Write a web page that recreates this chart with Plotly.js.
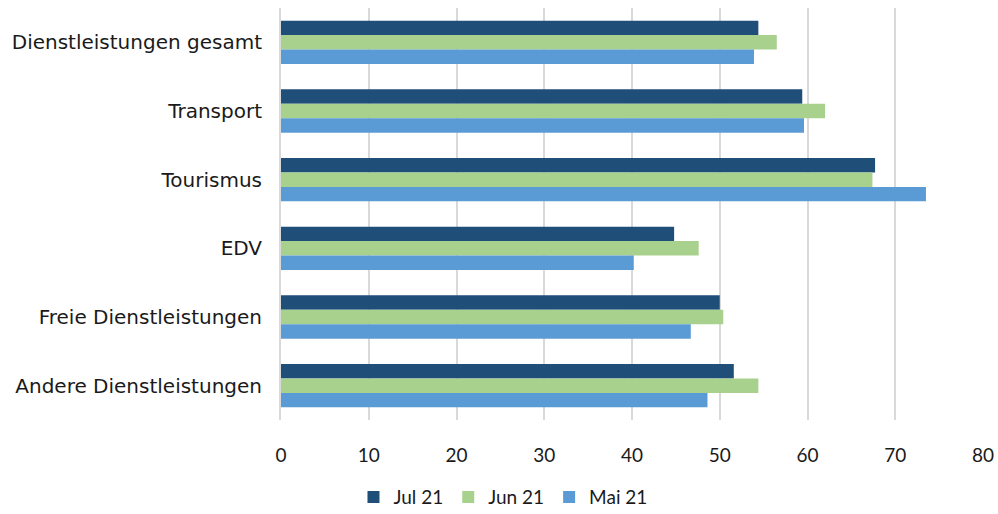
<!DOCTYPE html>
<html><head><meta charset="utf-8">
<script src="https://cdn.plot.ly/plotly-3.0.1.min.js"></script>
<style>body{margin:0;background:#fff}#chart{width:998px;height:514px}</style>
</head><body><div id="chart"></div>
<script>
const categories = ["Dienstleistungen gesamt","Transport","Tourismus","EDV","Freie Dienstleistungen","Andere Dienstleistungen"];
const seriesNames = ["Jul 21","Jun 21","Mai 21"];
const jul21 = [54.4, 59.4, 67.7, 44.8, 50.0, 51.6];
const jun21 = [56.5, 62.0, 67.4, 47.6, 50.4, 54.4];
const mai21 = [53.9, 59.6, 73.5, 40.2, 46.7, 48.6];
const colors = ["#1F4E79","#A9D18E","#5B9BD5"];
const values = [jul21, jun21, mai21];
const font = "Lato, 'Open Sans', sans-serif";
const catFont = "'DejaVu Sans', sans-serif";
const traces = values.map((v,i)=>({
  type:"bar", orientation:"h", name:seriesNames[i], x:v, y:categories,
  marker:{color:colors[i], line:{width:0}}, hoverinfo:"x+name"
}));
const layout = {
  width:998, height:514, paper_bgcolor:"#fff", plot_bgcolor:"#fff",
  margin:{l:281, r:15, t:8, b:94},
  barmode:"group", bargap:0.37, bargroupgap:0,
  font:{family:font, color:"#1a1a1a", size:19},
  xaxis:{range:[0,80], dtick:10, showgrid:true, gridcolor:"#d9d9d9", gridwidth:2,
    zeroline:false, showline:false, ticks:"outside", ticklen:18, tickcolor:"rgba(0,0,0,0)",
    tickfont:{size:19, family:font, color:"#1a1a1a"}, fixedrange:true},
  yaxis:{autorange:"reversed", showline:true, linecolor:"#d9d9d9", linewidth:2,
    showgrid:false, ticks:"outside", ticklen:13, tickcolor:"rgba(0,0,0,0)",
    tickfont:{size:20, family:catFont, color:"#1a1a1a"}, fixedrange:true},
  showlegend:true,
  legend:{orientation:"h", xref:"container", yref:"container", x:0.504, y:0.033,
    xanchor:"center", yanchor:"middle", font:{size:19, family:font, color:"#1a1a1a"},
    itemwidth:30, traceorder:"normal"}
};
Plotly.newPlot("chart", traces, layout, {displayModeBar:false, staticPlot:true});
</script></body></html>
